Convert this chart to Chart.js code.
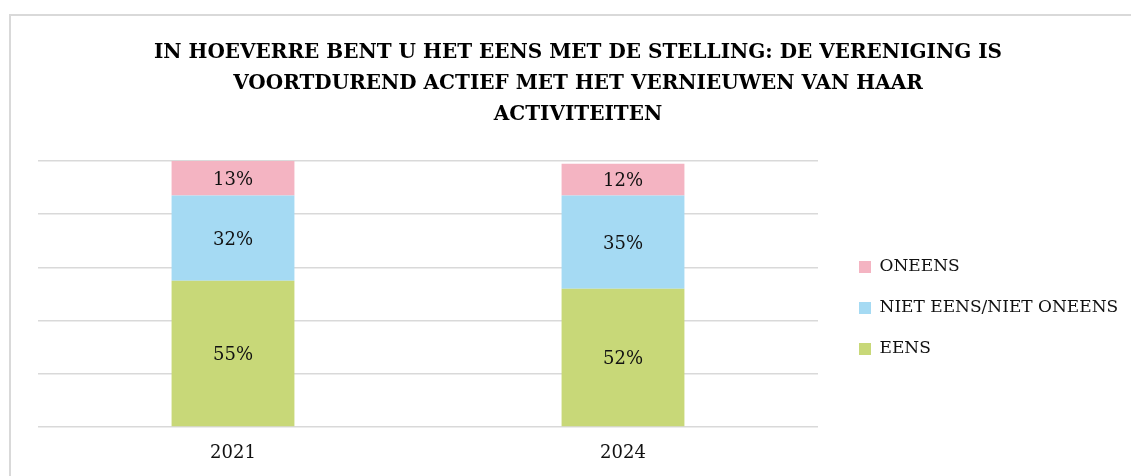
<!DOCTYPE html>
<html><head><meta charset="utf-8">
<script src="https://cdn.jsdelivr.net/npm/chart.js@4"></script>
<style>
html,body{margin:0;padding:0;background:#fff;}
#wrap{position:relative;width:1131px;height:476px;overflow:hidden;background:#fff;}
#frame{position:absolute;left:9px;top:14px;width:1200px;height:600px;border:2px solid #d9d9d9;box-sizing:border-box;}
canvas{position:absolute;left:0;top:0;}
</style></head><body>
<div id="wrap"><div id="frame"></div><canvas id="c" width="1131" height="476"></canvas></div>
<script>
const categories = ['2021', '2024'];
const eens = [55, 52];
const neutraal = [32, 35];
const oneens = [13, 12];
const seriesNames = ['EENS', 'NIET EENS/NIET ONEENS', 'ONEENS'];
const seriesColors = ['#C8D878', '#A5DAF3', '#F4B4C2'];
const yTicks = [0, 20, 40, 60, 80, 100];
const titleLines = [
  'IN HOEVERRE BENT U HET EENS MET DE STELLING: DE VERENIGING IS',
  'VOORTDUREND ACTIEF MET HET VERNIEUWEN VAN HAAR',
  'ACTIVITEITEN'
];

const FONT = '"DejaVu Serif", "Liberation Serif", serif';

const barLabels = {
  id: 'barLabels',
  afterDatasetsDraw(chart) {
    const ctx = chart.ctx;
    ctx.save();
    ctx.font = '18px ' + FONT;
    ctx.fillStyle = '#111';
    ctx.textAlign = 'center';
    ctx.textBaseline = 'middle';
    chart.data.datasets.forEach((ds, i) => {
      const meta = chart.getDatasetMeta(i);
      meta.data.forEach((el, j) => {
        const p = el.getProps(['x', 'y', 'base'], true);
        ctx.fillText(ds.data[j] + '%', p.x, (p.y + p.base) / 2 + 2);
      });
    });
    ctx.restore();
  }
};

new Chart(document.getElementById('c'), {
  type: 'bar',
  data: {
    labels: categories,
    datasets: [
      { label: seriesNames[0], data: eens, backgroundColor: seriesColors[0] },
      { label: seriesNames[1], data: neutraal, backgroundColor: seriesColors[1] },
      { label: seriesNames[2], data: oneens, backgroundColor: seriesColors[2] }
    ]
  },
  options: {
    responsive: false,
    animation: false,
    devicePixelRatio: 1,
    datasets: { bar: { categoryPercentage: 1, barPercentage: 0.315, borderWidth: 0 } },
    layout: { padding: { left: 38, right: 13, top: 0, bottom: 11 } },
    plugins: {
      title: {
        display: true,
        text: titleLines,
        color: '#000',
        font: { family: FONT, size: 20, weight: 'bold', lineHeight: 1.55 },
        padding: { top: 37, bottom: 31 }
      },
      legend: {
        position: 'right',
        fullSize: false,
        reverse: true,
        maxWidth: 283,
        title: { display: true, text: '', font: { size: 10, lineHeight: 1.2 }, padding: { top: 16, bottom: 0 } },
        labels: {
          boxWidth: 12, boxHeight: 12, padding: 24,
          color: '#111',
          font: { family: FONT, size: 17 }
        }
      },
      tooltip: { enabled: false }
    },
    scales: {
      x: {
        stacked: true,
        afterFit: s => { s.height = 38; },
        grid: { display: false, drawTicks: false },
        border: { display: false },
        ticks: { color: '#111', font: { family: FONT, size: 18 }, padding: 16 }
      },
      y: {
        stacked: true,
        position: 'right',
        min: 0, max: 100,
        afterBuildTicks: s => { s.ticks = yTicks.map(v => ({ value: v })); },
        afterFit: s => { s.width = 17; },
        ticks: { display: false },
        border: { display: false },
        grid: { color: '#d9d9d9', lineWidth: 1.5, drawTicks: false }
      }
    }
  },
  plugins: [barLabels]
});
</script>
</body></html>
